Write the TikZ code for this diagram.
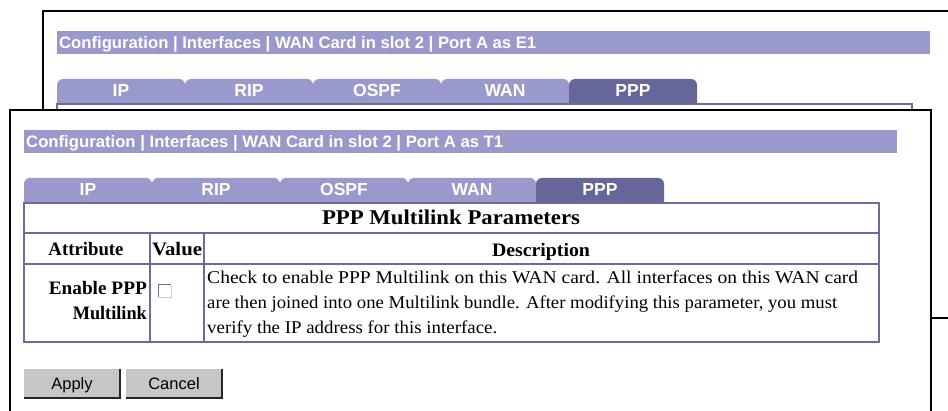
\documentclass[tikz,border=0pt]{standalone}
\usepackage{fontspec}
\usepackage{graphicx}
\setmainfont{Liberation Serif}
\newfontfamily\uisans{Liberation Sans}

\definecolor{barlilac}{HTML}{9999CC}
\definecolor{tabdark}{HTML}{666699}
\definecolor{gridline}{HTML}{6B6B9E}
\definecolor{btngray}{HTML}{C6C6C6}

% text of a given size squeezed/stretched to a given width
\newcommand{\fitw}[3]{\resizebox{#1pt}{\height}{\fontsize{#2}{#2}\selectfont #3}}

% one tab of the tab strip, left edge at #2
\newcommand{\uitab}[2]{%
  \fill[#1] (#2,203) -- (#2,184) arc[start angle=180,end angle=270,radius=6]
    -- ({#2+122},178) arc[start angle=270,end angle=360,radius=6]
    -- ({#2+128},203) -- cycle;}

% window chrome: frame, title bar, tab strip and table outline
\newcommand{\uiwindow}[3]{%
  \begin{scope}[shift={(#2)}]
    \draw[winframe] (10,110) rectangle (931,417);
    \fill[barlilac] (24,130) rectangle (897,153);
    \node[titletext] (#1title) at (26,148)
      {\fitw{477}{16.6}{\bfseries Configuration | Interfaces | WAN Card in slot 2 | Port A as #3}};
    \foreach \lbl [count=\k from 0] in {IP,RIP,OSPF,WAN}{
      \uitab{barlilac}{24+128*\k}
      \node[tabtext] (#1tab\lbl) at (88+128*\k,195.7) {\lbl};
    }
    \uitab{tabdark}{536}
    \node[tabtext] (#1tabPPP) at (600,195.7) {PPP};
    \draw[gridline] (24,203) rectangle (879,342);
  \end{scope}}

\begin{document}
\begin{tikzpicture}[x=1pt,y=-1pt,
  winframe/.style={fill=white,draw=black,line width=1.5},
  gridline/.style={draw=gridline,line width=2},
  titletext/.style={anchor=base west,inner sep=0,text=white,font=\uisans},
  tabtext/.style={anchor=base,inner sep=0,text=white,font=\uisans\bfseries\fontsize{17.5}{17.5}\selectfont},
  headtext/.style={inner sep=0,font=\bfseries},
  desctext/.style={anchor=base west,inner sep=0},
  btn/.style={fill=btngray,minimum width=96,minimum height=29,inner sep=0,
    text height=11.8,text depth=0,font=\uisans\fontsize{16.5}{16.5}\selectfont},
  btnlight/.style={draw=white,line width=1},
  btndark/.style={draw=black!85,line width=2},
]
\useasboundingbox (0,0) rectangle (948,411);
\clip (0,0) rectangle (948,411);

% window behind, then the window in front
\uiwindow{back}{33,-99}{E1}
\uiwindow{front}{0,0}{T1}

% table grid
\draw[gridline] (24,233) -- (879,233);
\draw[gridline] (24,264) -- (879,264);
\draw[gridline] (150,233) -- (150,342);
\draw[gridline] (204,233) -- (204,342);

% table texts
\node[headtext,anchor=base] (caption) at (451,225)
  {\fitw{258}{21}{\bfseries PPP Multilink Parameters}};
\node[headtext,anchor=base] (colattr) at (86,256)
  {\fitw{75}{19}{\bfseries Attribute}};
\node[headtext,anchor=base] (colval) at (177,256)
  {\fitw{50}{19}{\bfseries Value}};
\node[headtext,anchor=base] (coldesc) at (541,256.5)
  {\fitw{98}{19}{\bfseries Description}};
\node[headtext,anchor=base east] (attr1) at (147,295)
  {\fitw{98}{19}{\bfseries Enable PPP}};
\node[headtext,anchor=base east] (attr2) at (147,320)
  {\fitw{74}{19}{\bfseries Multilink}};

% check box
\node[fill=white,minimum size=12,inner sep=0] (mlbox) at (165,291) {};
\draw[draw=black!55,line width=1] (mlbox.south west) |- (mlbox.north east);
\draw[draw=black!20,line width=1] (mlbox.north east) |- (mlbox.south west);

% description
\node[desctext] (desc1) at (207,284)
  {\fitw{651}{18}{Check to enable PPP Multilink on this WAN card. All interfaces on this WAN card}};
\node[desctext] (desc2) at (207,309)
  {\fitw{630}{18}{are then joined into one Multilink bundle. After modifying this parameter, you must}};
\node[desctext] (desc3) at (207,334)
  {\fitw{290}{18}{verify the IP address for this interface.}};

% buttons
\node[btn] (apply) at (72,383.5) {Apply};
\node[btn] (cancel) at (174,383.5) {Cancel};
\foreach \b in {apply,cancel}{
  \draw[btnlight] (\b.south west) |- (\b.north east);
  \draw[btndark] (\b.north east) |- (\b.south west);
}
\end{tikzpicture}
\end{document}
